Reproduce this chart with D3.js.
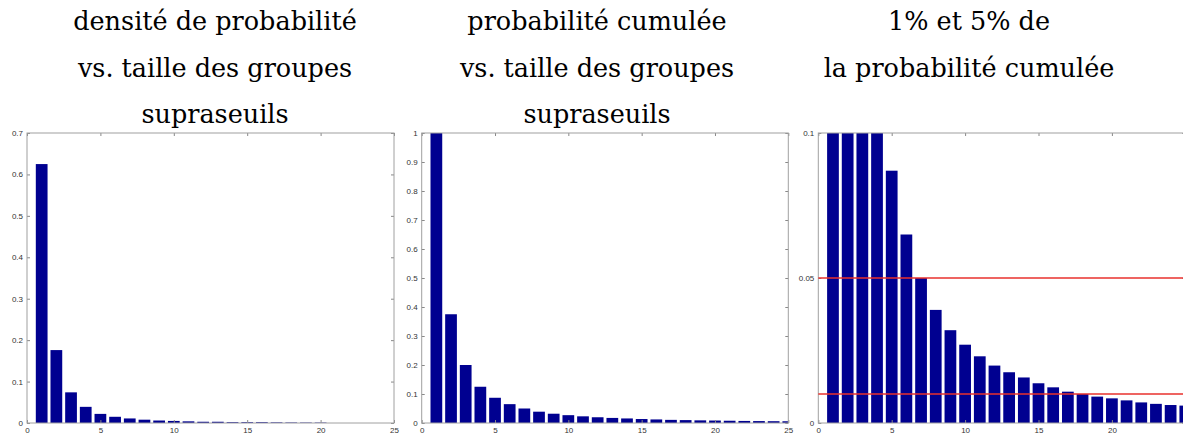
<!DOCTYPE html>
<html>
<head>
<meta charset="utf-8">
<script src="https://cdn.jsdelivr.net/npm/d3@7"></script>
<style>
  body { margin: 0; background: #fff; }
  .axe text { font-family: "Liberation Sans", Arial, sans-serif; font-size: 8px; fill: #333; }
  .axe line { stroke: #888; }
</style>
</head>
<body>
<div id="figure"></div>
<script>
(function () {
  // taille des groupes supraseuils
  const tailles = [1, 2, 3, 4, 5, 6, 7, 8, 9, 10, 11, 12, 13, 14, 15, 16, 17, 18, 19, 20, 21, 22, 23, 24, 25];

  // densite de probabilite (panneau 1)
  const densite = [
    0.625, 0.176, 0.074, 0.039, 0.022, 0.015, 0.011, 0.008, 0.006, 0.005,
    0.004, 0.003, 0.003, 0.002, 0.002, 0.002, 0.0015, 0.0012, 0.001, 0.001,
    0, 0, 0, 0, 0,
  ];

  // probabilite cumulee (panneaux 2 et 3)
  const cumulee = [
    1.0, 0.375, 0.2, 0.125, 0.087, 0.065, 0.05, 0.039, 0.032, 0.027,
    0.023, 0.0198, 0.0175, 0.0157, 0.0137, 0.0123, 0.0108, 0.01, 0.0091, 0.0085,
    0.0078, 0.0071, 0.0066, 0.0062, 0.006,
  ];

  // seuils 5% et 1%
  const seuils = [0.05, 0.01];

  const xTicks = [0, 5, 10, 15, 20, 25];
  const yTicks1 = [0, 0.1, 0.2, 0.3, 0.4, 0.5, 0.6, 0.7];
  const yTicks2 = [0, 0.1, 0.2, 0.3, 0.4, 0.5, 0.6, 0.7, 0.8, 0.9, 1];
  const yTicks3 = [0, 0.05, 0.1];

  const titres1 = ["densité de probabilité", "vs. taille des groupes", "supraseuils"];
  const titres2 = ["probabilité cumulée", "vs. taille des groupes", "supraseuils"];
  const titres3 = ["1% et 5% de", "la probabilité cumulée"];

  const width = 1183;
  const height = 439;
  const top = 133;
  const bottom = 423;
  const BAR_COLOR = "#000090";
  const SERIF = "'DejaVu Serif', 'Noto Serif', serif";

  const svg = d3
    .select("#figure")
    .append("svg")
    .attr("width", width)
    .attr("height", height);

  const fmt = (d) => (d === 0 ? "0" : String(d));

  function drawPanel(id, left, right, values, yMax, yTicks, titres, titreX) {
    const xScale = d3.scaleLinear().domain([0, 25]).range([left, right]);
    const yScale = d3.scaleLinear().domain([0, yMax]).range([bottom, top]);

    const g = svg.append("g").attr("id", id);

    g.append("clipPath")
      .attr("id", `clip-${id}`)
      .append("rect")
      .attr("x", left)
      .attr("y", top)
      .attr("width", right - left)
      .attr("height", bottom - top);

    // barres
    const bw = xScale(0.8) - xScale(0);
    g.append("g")
      .attr("clip-path", `url(#clip-${id})`)
      .selectAll("rect")
      .data(tailles)
      .join("rect")
      .attr("x", (d) => xScale(d) - bw / 2)
      .attr("y", (d, i) => yScale(values[i]))
      .attr("width", bw)
      .attr("height", (d, i) => bottom - yScale(values[i]))
      .style("fill", BAR_COLOR);

    // graduations visibles en entier seulement (le panneau 3 est coupe a droite)
    const xLab = (d) => (xScale(d) + 6 <= width ? d : "");

    // axes (graduations vers l'interieur, comme matlab)
    g.append("g")
      .attr("class", "axe")
      .attr("transform", `translate(0, ${bottom})`)
      .call(d3.axisBottom(xScale).tickValues(xTicks).tickSizeInner(-3).tickSizeOuter(0).tickPadding(4).tickFormat(xLab))
      .call((a) => a.select(".domain").remove());
    g.append("g")
      .attr("class", "axe")
      .attr("transform", `translate(0, ${top})`)
      .call(d3.axisTop(xScale).tickValues(xTicks).tickSizeInner(-3).tickSizeOuter(0).tickFormat(""))
      .call((a) => a.select(".domain").remove());
    g.append("g")
      .attr("class", "axe")
      .attr("transform", `translate(${left}, 0)`)
      .call(d3.axisLeft(yScale).tickValues(yTicks).tickSizeInner(-3).tickSizeOuter(0).tickPadding(4).tickFormat(fmt))
      .call((a) => a.select(".domain").remove());
    g.append("g")
      .attr("class", "axe")
      .attr("transform", `translate(${right}, 0)`)
      .call(d3.axisRight(yScale).tickValues(yTicks).tickSizeInner(-3).tickSizeOuter(0).tickFormat(""))
      .call((a) => a.select(".domain").remove());

    // cadre
    g.append("rect")
      .attr("x", left)
      .attr("y", top)
      .attr("width", right - left)
      .attr("height", bottom - top)
      .style("fill", "none")
      .style("stroke", "#a0a0a0")
      .style("stroke-width", 1);

    // titre
    g.selectAll("text.titre")
      .data(titres)
      .join("text")
      .attr("class", "titre")
      .attr("text-anchor", "middle")
      .attr("font-family", SERIF)
      .attr("font-size", 25.5)
      .attr("fill", "#000")
      .attr("x", titreX)
      .attr("y", (d, i) => 30 + i * 46.5)
      .text((d) => d);

    return { g, xScale, yScale };
  }

  drawPanel("p1", 27, 394, densite, 0.7, yTicks1, titres1, 215);
  drawPanel("p2", 421.7, 788.3, cumulee, 1, yTicks2, titres2, 597);
  const p3 = drawPanel("p3", 818.3, 1185.3, cumulee, 0.1, yTicks3, titres3, 969);

  // lignes rouges a 5% et 1%
  p3.g
    .selectAll("line.seuil")
    .data(seuils)
    .join("line")
    .attr("class", "seuil")
    .attr("x1", p3.xScale(0))
    .attr("x2", p3.xScale(25))
    .attr("y1", (d) => p3.yScale(d))
    .attr("y2", (d) => p3.yScale(d))
    .style("stroke", "#e8302c")
    .style("stroke-width", 1.6);
})();
</script>
</body>
</html>
